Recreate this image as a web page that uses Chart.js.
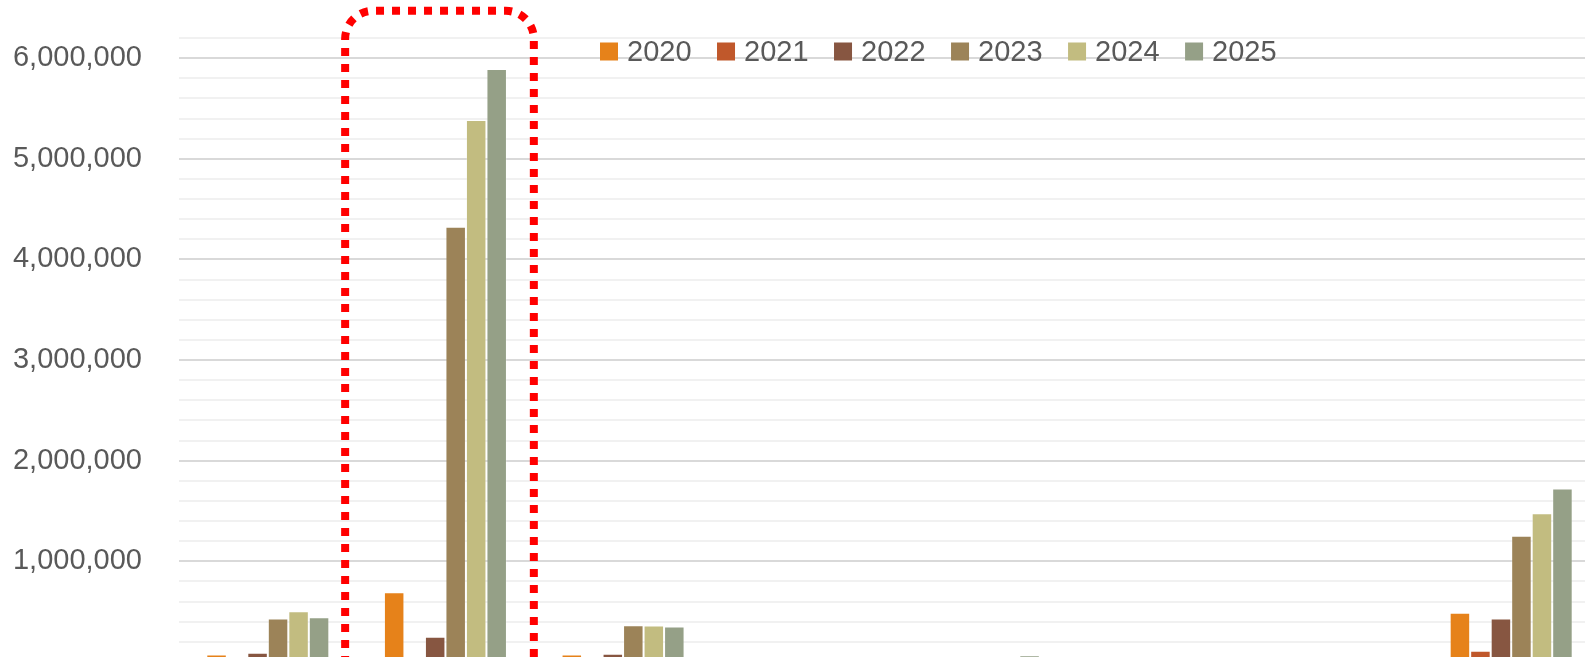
<!DOCTYPE html>
<html>
<head>
<meta charset="utf-8">
<script src="https://cdn.jsdelivr.net/npm/chart.js@4/dist/chart.umd.min.js"></script>
<style>
  html, body { margin: 0; padding: 0; background: #ffffff; overflow: hidden; }
  #wrap { position: absolute; left: 0; top: 0; width: 1610px; height: 720px; }
</style>
</head>
<body>
<div id="wrap"><canvas id="c"></canvas></div>
<script>
// ---- data (the category axis is cropped out of view) ----
const categories = ['C1', 'C2', 'C3', 'C4', 'C5', 'C6', 'C7', 'C8'];
const seriesNames = ['2020', '2021', '2022', '2023', '2024', '2025'];
const v2020 = [75000, 692000, 75000, 0, 0, 0, 0, 490000];
const v2021 = [0, 0, 0, 0, 0, 0, 0, 112000];
const v2022 = [92000, 252000, 82000, 0, 0, 0, 0, 432000];
const v2023 = [432000, 4325000, 365000, 0, 0, 0, 0, 1255000];
const v2024 = [505000, 5385000, 362000, 0, 0, 0, 0, 1477000];
const v2025 = [445000, 5893000, 352000, 0, 66000, 0, 0, 1723000];
const yTickMax = 6200000;
const yTickStep = 200000;
const yMajorStep = 1000000;
const highlightedCategory = 1;

const seriesValues = [v2020, v2021, v2022, v2023, v2024, v2025];
const seriesColors = ['#E6821A', '#C0582B', '#875641', '#9C8358', '#C2BC80', '#95A087'];
const FONT = '"Liberation Sans", Arial, sans-serif';
const TEXT = '#595959';

const datasets = seriesNames.map((n, i) => ({
  label: n,
  data: seriesValues[i],
  backgroundColor: seriesColors[i],
  borderColor: 'rgba(255,255,255,0.22)',
  borderWidth: 1,
  borderSkipped: 'start',
  categoryPercentage: 0.6926,
  barPercentage: 1.0
}));

const overlay = {
  id: 'overlay',
  afterDraw(chart) {
    const ctx = chart.ctx;
    const area = chart.chartArea;
    // legend
    ctx.save();
    ctx.font = '29px ' + FONT;
    ctx.textBaseline = 'middle';
    ctx.textAlign = 'left';
    let x = area.left + 421;
    const cy = 51.5;
    chart.data.datasets.forEach(ds => {
      ctx.fillStyle = ds.backgroundColor;
      ctx.fillRect(x, cy - 9, 18, 18);
      ctx.fillStyle = TEXT;
      ctx.fillText(ds.label, x + 27, cy + 1);
      x += 27 + ctx.measureText(ds.label).width + 25.5;
    });
    ctx.restore();

    // red dotted highlight around the highlighted category
    const xs = chart.scales.x;
    const c = xs.getPixelForValue(highlightedCategory);
    const l = c - 100.3, r = c + 88.4, t = 10.8, b = chart.height + 40;
    const rad = 28;
    ctx.save();
    ctx.strokeStyle = '#FF0000';
    ctx.lineWidth = 8;
    ctx.setLineDash([8, 8]);
    ctx.lineCap = 'butt';
    ctx.beginPath();
    ctx.moveTo(l, b);
    ctx.lineTo(l, t + rad);
    ctx.arcTo(l, t, l + rad, t, rad);
    ctx.lineTo(r - rad, t);
    ctx.arcTo(r, t, r, t + rad, rad);
    ctx.lineTo(r, b);
    ctx.stroke();
    ctx.restore();
  }
};

new Chart(document.getElementById('c'), {
  type: 'bar',
  data: { labels: categories, datasets },
  options: {
    responsive: true,
    maintainAspectRatio: false,
    animation: false,
    devicePixelRatio: 1,
    layout: { padding: { top: 38, right: 10, left: 0, bottom: 0 } },
    plugins: { legend: { display: false }, tooltip: { enabled: false } },
    scales: {
      x: {
        grid: { display: false },
        border: { display: false },
        ticks: { display: false },
        afterFit(scale) { scale.height = 58; scale.paddingLeft = 0; scale.paddingRight = 0; }
      },
      y: {
        min: 0,
        max: yTickMax,
        border: { display: false },
        grid: {
          drawTicks: false,
          lineWidth: 2,
          color: (ctx) => (ctx.tick && ctx.tick.value % yMajorStep === 0) ? '#D9D9D9' : '#F1F1F1'
        },
        ticks: {
          stepSize: yTickStep,
          autoSkip: false,
          padding: 37,
          color: TEXT,
          font: { family: FONT, size: 29 },
          callback: (v) => (v !== 0 && v % yMajorStep === 0) ? v.toLocaleString('en-US') : ''
        },
        afterFit(scale) { scale.width = 179; scale.paddingTop = 0; scale.paddingBottom = 0; }
      }
    }
  },
  plugins: [overlay]
});
</script>
</body>
</html>
